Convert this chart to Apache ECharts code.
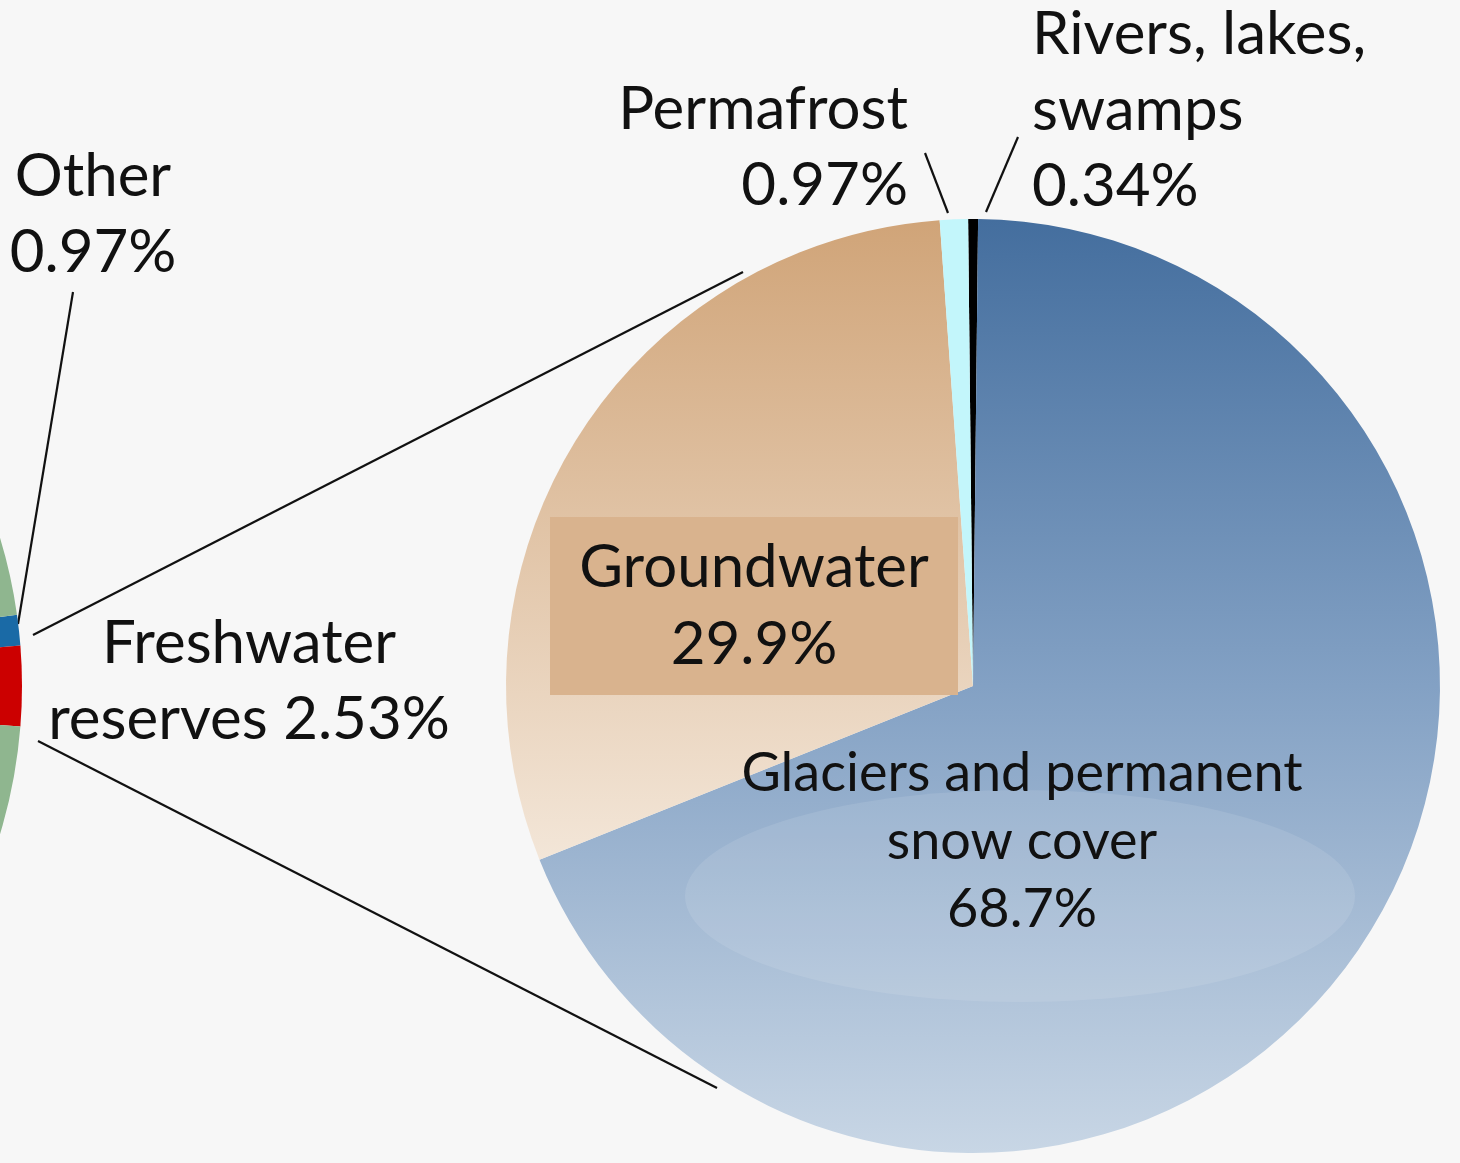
<!DOCTYPE html>
<html>
<head>
<meta charset="utf-8">
<script src="https://cdn.jsdelivr.net/npm/echarts@6/dist/echarts.min.js"></script>
<style>
html,body{margin:0;padding:0;background:#f7f7f7;}
#main{width:1460px;height:1163px;}
</style>
</head>
<body>
<div id="main"></div>
<script>
// all water on earth (pie mostly off the left edge)
var worldNames = ['Other', 'Freshwater\nreserves', 'Oceans'];
var worldValues = [0.97, 2.53, 96.5];
var worldColors = ['#1a6aa6', '#cc0000', '#8fb68f'];

// freshwater breakdown (zoomed pie)
var freshNames = ['Rivers, lakes,\nswamps', 'Glaciers and permanent\nsnow cover', 'Groundwater', 'Permafrost'];
var freshValues = [0.34, 68.7, 29.9, 0.97];

var chart = echarts.init(document.getElementById('main'));

var textStyle = {fontFamily: 'Lato', fontSize: 60, color: '#111', lineHeight: 76};

// where each label sits
var worldLabelPos = [
  {x: 93, y: 215, align: 'center', line: [[73, 292], [18, 624]]},
  {x: 249, y: 682, align: 'center'},
  null
];
var freshLabelPos = [
  {x: 1032, y: 111, align: 'left', line: [[1018, 137], [986, 212]]},
  {x: 1022, y: 842, align: 'center'},
  {x: 754, y: 606, align: 'center'},
  {x: 908, y: 148, align: 'right', line: [[925, 153], [948, 213]]}
];

function layoutFrom(list) {
  return function (p) {
    var pos = list[p.dataIndex];
    if (!pos) return {};
    var r = {x: pos.x, y: pos.y, align: pos.align, verticalAlign: 'middle'};
    if (pos.line) r.labelLinePoints = pos.line;
    return r;
  };
}

var worldData = worldNames.map(function (n, i) {
  return {
    name: n,
    value: worldValues[i],
    itemStyle: {color: worldColors[i]},
    label: {show: i < 2},
    labelLine: {show: i === 0}
  };
});

var freshColors = [
  '#000',
  new echarts.graphic.LinearGradient(0, 0, 0, 1, [
    {offset: 0, color: '#446e9e'},
    {offset: 0.5, color: '#83a1c4'},
    {offset: 1, color: '#c8d6e5'}
  ]),
  new echarts.graphic.LinearGradient(0, 0, 0, 1, [
    {offset: 0, color: '#d0a478'},
    {offset: 1, color: '#f3e6d8'}
  ]),
  '#c3f6fb'
];

// slices only
var freshData = freshNames.map(function (n, i) {
  return {name: n, value: freshValues[i], itemStyle: {color: freshColors[i]}};
});

// same slices, transparent, carrying the labels above the highlight
var freshLabelData = freshNames.map(function (n, i) {
  var item = {
    name: n,
    value: freshValues[i],
    itemStyle: {color: 'rgba(0,0,0,0)'},
    labelLine: {show: i === 0 || i === 3}
  };
  if (i === 1) item.label = {fontSize: 54, lineHeight: 68};
  if (i === 2) item.label = {lineHeight: 77, backgroundColor: '#d9b38e', padding: [12, 26], width: 356};
  return item;
});

var option = {
  backgroundColor: '#f7f7f7',
  animation: false,
  graphic: [
    {type: 'line', shape: {x1: 33, y1: 635, x2: 743, y2: 272}, style: {stroke: '#111', lineWidth: 2.2}, z: 5},
    {type: 'line', shape: {x1: 38, y1: 741, x2: 717, y2: 1088}, style: {stroke: '#111', lineWidth: 2.2}, z: 5},
    // soft highlight on the glacier slice
    {type: 'ellipse', shape: {cx: 1020, cy: 896, rx: 335, ry: 106}, style: {fill: 'rgba(255,255,255,0.1)'}, z: 3, silent: true}
  ],
  series: [
    {
      type: 'pie',
      z: 2,
      center: [-488, 686],
      radius: [0, 510],
      startAngle: 8.04,
      clockwise: true,
      avoidLabelOverlap: false,
      emphasis: {disabled: true},
      label: Object.assign({
        position: 'outside',
        formatter: function (p) {
          return p.name + (p.dataIndex === 1 ? ' ' : '\n') + p.value + '%';
        }
      }, textStyle),
      labelLine: {lineStyle: {color: '#111', width: 2.2}},
      labelLayout: layoutFrom(worldLabelPos),
      data: worldData
    },
    {
      type: 'pie',
      z: 2,
      center: [973, 686],
      radius: [0, 467],
      startAngle: 90.6,
      clockwise: true,
      emphasis: {disabled: true},
      label: {show: false},
      labelLine: {show: false},
      data: freshData
    },
    {
      type: 'pie',
      z: 4,
      silent: true,
      center: [973, 686],
      radius: [0, 467],
      startAngle: 90.6,
      clockwise: true,
      avoidLabelOverlap: false,
      emphasis: {disabled: true},
      label: Object.assign({
        position: 'outside',
        formatter: '{b}\n{c}%'
      }, textStyle),
      labelLine: {lineStyle: {color: '#111', width: 2.2}},
      labelLayout: layoutFrom(freshLabelPos),
      data: freshLabelData
    }
  ]
};

chart.setOption(option);
</script>
</body>
</html>
